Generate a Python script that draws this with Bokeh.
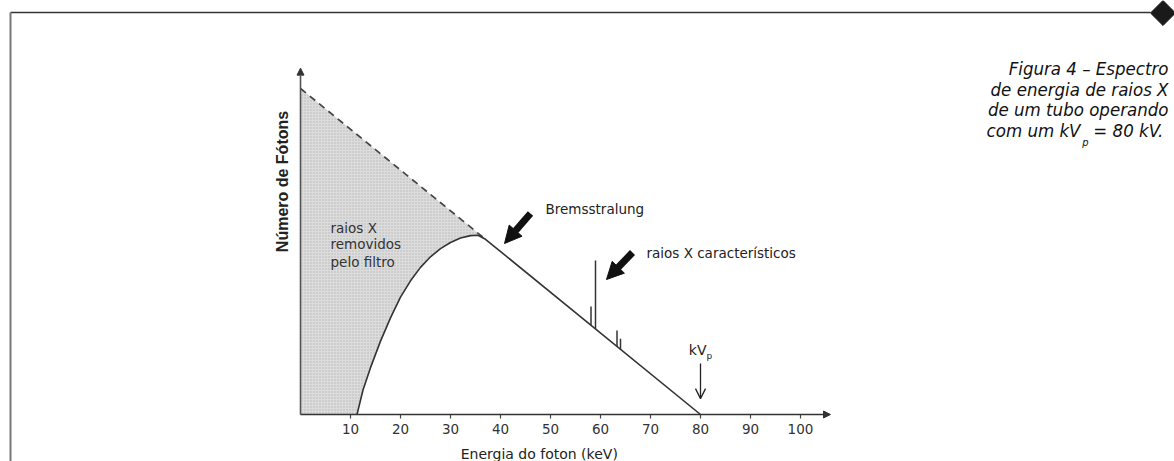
import numpy as np
from bokeh.plotting import figure
from bokeh.models import Range1d, FixedTicker, LinearAxis, Arrow, NormalHead, OpenHead
from bokeh.core.properties import value
from bokeh.embed import file_html
from bokeh.resources import INLINE

# ---------------- data ----------------
tick_values = [10, 20, 30, 40, 50, 60, 70, 80, 90, 100]
tick_labels = ["10", "20", "30", "40", "50", "60", "70", "80", "90", "100"]

# filtered spectrum (keV, relative number of photons)
filtered_E = [11.3, 12.5, 14.0, 16.0, 18.0, 20.0, 22.0, 24.0, 26.0, 28.0, 30.0, 32.0, 34.0, 35.5, 37.0, 80.0]
filtered_N = [0.0, 6.0, 11.5, 18.0, 23.7, 28.8, 32.8, 36.1, 38.7, 40.7, 42.2, 43.3, 43.9, 44.0, 43.0, 0.0]
# unfiltered (dashed) bremsstrahlung part
unfiltered_E = [0.0, 37.0]
unfiltered_N = [80.0, 43.0]
# characteristic lines
char_E = [58.1, 59.0, 63.3, 64.0]
char_top = [26.5, 37.8, 20.6, 18.6]
kvp = 80.0
kvp_arrow_N = [12.5, 3.9]
x_axis_end = 106.0
y_axis_end = 85.0

y_label = "Número de Fótons"
x_label = "Energia do foton  (keV)"
filter_label = ["raios X", "removidos", "pelo filtro"]
brems_label = "Bremsstralung"
char_label = "raios X característicos"
caption_lines = ["Figura 4 – Espectro", "de energia de raios X", "de um tubo operando"]
caption_last = ["com um kV", "p", " = 80 kV."]

# ---------------- layout ----------------
W, H = 1174, 461
X0_PX, PX_PER_KEV = 300.0, 5.0
Y0_PX, PX_PER_N = 414.0, 4.075

def ex(px):  # pixel x -> keV
    return (px - X0_PX) / PX_PER_KEV

def en(py):  # pixel y -> N
    return (Y0_PX - py) / PX_PER_N

p = figure(width=W, height=H,
           x_range=Range1d(ex(0), ex(W)), y_range=Range1d(en(H), en(0)),
           output_backend="svg", toolbar_location=None,
           x_axis_location=None, y_axis_location=None,
           min_border_left=0, min_border_right=0, min_border_top=0, min_border_bottom=0)
p.outline_line_color = None
p.background_fill_color = "white"
p.border_fill_color = "white"
p.grid.visible = False
p.extra_x_ranges = {"px": Range1d(0, W)}
p.extra_y_ranges = {"px": Range1d(H, 0)}

SANS = value("DejaVu Sans")
CAP_FONT = value("'DejaVu Sans Condensed', 'Liberation Sans Narrow', 'DejaVu Sans', sans-serif")

# ---------------- page frame ----------------
p.segment(x0=[10, 10], y0=[12, 12], x1=[1150, 10], y1=[12, H + 2],
          line_color=["#333333", "#777777"], line_width=[1.4, 2.0],
          x_range_name="px", y_range_name="px")
p.scatter(x=[1162.5], y=[12.5], marker="square", size=17.7, angle=np.pi / 4,
          fill_color="#1a1a1a", line_color="#1a1a1a", x_range_name="px", y_range_name="px")

# ---------------- shaded removed region ----------------
curve_E = filtered_E[:-1]
curve_N = filtered_N[:-1]
shade_x = [0.0] + unfiltered_E + curve_E[::-1]
shade_y = [0.0] + unfiltered_N + curve_N[::-1]
p.patch(shade_x, shade_y, fill_color="#dcdcdc", line_color=None,
        hatch_pattern="dot", hatch_color="#b5b5b5", hatch_scale=3, hatch_weight=0.7)

# ---------------- spectrum ----------------
p.line(unfiltered_E, unfiltered_N, line_dash="7 5", line_width=1.7, line_color="#444444")
p.line(filtered_E, filtered_N, line_width=1.6, line_color="#333333")
char_base = list(np.interp(char_E, [filtered_E[-2], filtered_E[-1]], [filtered_N[-2], filtered_N[-1]]))
p.segment(x0=char_E, y0=char_base, x1=char_E, y1=char_top, line_width=1.5, line_color="#333333")

# ---------------- axes ----------------
p.add_layout(Arrow(end=NormalHead(size=7, fill_color="#333333", line_color="#333333"),
                   x_start=0, y_start=0, x_end=0, y_end=y_axis_end,
                   line_color="#555555", line_width=1.6))
p.add_layout(Arrow(end=NormalHead(size=7, fill_color="#333333", line_color="#333333"),
                   x_start=0, y_start=0, x_end=x_axis_end, y_end=0,
                   line_color="#333333", line_width=1.6))

xaxis = LinearAxis(ticker=FixedTicker(ticks=tick_values), fixed_location=0,
                   major_label_overrides={v: l for v, l in zip(tick_values, tick_labels)},
                   axis_line_color=None, major_tick_in=0, major_tick_out=4,
                   major_tick_line_color="#444444", major_tick_line_width=1.2,
                   minor_tick_line_color=None,
                   major_label_text_font="DejaVu Sans", major_label_text_font_size="13.5px",
                   major_label_text_color="#333333", major_label_standoff=5)
p.add_layout(xaxis, "below")

p.text(x=[ex(541)], y=[en(453)], text=[x_label], text_align="center",
       text_baseline="middle", text_font=SANS, text_font_size="14px",
       text_color="#222222")

p.text(x=[ex(282)], y=[en(181)], text=[y_label], angle=np.pi / 2,
       text_align="center", text_baseline="middle",
       text_font=value("Liberation Sans"), text_font_style="bold",
       text_font_size="16px", text_color="#222222")

# ---------------- annotations ----------------
p.text(x=[ex(330)] * 3, y=[en(227), en(243.5), en(261)], text=filter_label,
       text_align="left", text_baseline="middle", text_font=SANS,
       text_font_size="13.5px", text_color="#333333")
p.text(x=[ex(545)], y=[en(208)], text=[brems_label], text_align="left",
       text_baseline="middle", text_font=SANS, text_font_size="13.5px", text_color="#222222")
p.text(x=[ex(646)], y=[en(252)], text=[char_label], text_align="left",
       text_baseline="middle", text_font=SANS, text_font_size="13.5px", text_color="#222222")

p.add_layout(Arrow(end=NormalHead(size=17, fill_color="#111111", line_color="#111111"),
                   x_start=ex(530), y_start=en(213), x_end=ex(504), y_end=en(243),
                   line_color="#111111", line_width=7))
p.add_layout(Arrow(end=NormalHead(size=17, fill_color="#111111", line_color="#111111"),
                   x_start=ex(632), y_start=en(252), x_end=ex(606), y_end=en(279),
                   line_color="#111111", line_width=7))

# kVp marker
p.add_layout(Arrow(end=OpenHead(size=10, line_color="#222222", line_width=1.3),
                   x_start=kvp, y_start=kvp_arrow_N[0], x_end=kvp, y_end=kvp_arrow_N[1],
                   line_color="#222222", line_width=1.3))
p.text(x=[ex(706)], y=[en(349)], text=["kV"], text_align="right", text_baseline="middle",
       text_font=SANS, text_font_size="14px", text_color="#222222")
p.text(x=[ex(706)], y=[en(355)], text=["p"], text_align="left", text_baseline="middle",
       text_font=SANS, text_font_size="9px", text_color="#222222")

# ---------------- caption ----------------
p.text(x=[1168] * 3, y=[68, 88.5, 109], text=caption_lines, text_align="right",
       text_baseline="middle", text_font=CAP_FONT, text_font_style="italic",
       text_font_size="18.5px", text_color="#111111", x_range_name="px", y_range_name="px")
p.text(x=[1168], y=[129.5], text=[caption_last[2]], text_align="right",
       text_baseline="middle", text_font=CAP_FONT, text_font_style="italic",
       text_font_size="18.5px", text_color="#111111", x_range_name="px", y_range_name="px")
p.text(x=[1085], y=[142], text=[caption_last[1]], text_align="center",
       text_baseline="middle", text_font=CAP_FONT, text_font_style="italic",
       text_font_size="11px", text_color="#111111", x_range_name="px", y_range_name="px")
p.text(x=[1080], y=[129.5], text=[caption_last[0]], text_align="right",
       text_baseline="middle", text_font=CAP_FONT, text_font_style="italic",
       text_font_size="18.5px", text_color="#111111", x_range_name="px", y_range_name="px")

open("out.html", "w").write(file_html(p, INLINE))
